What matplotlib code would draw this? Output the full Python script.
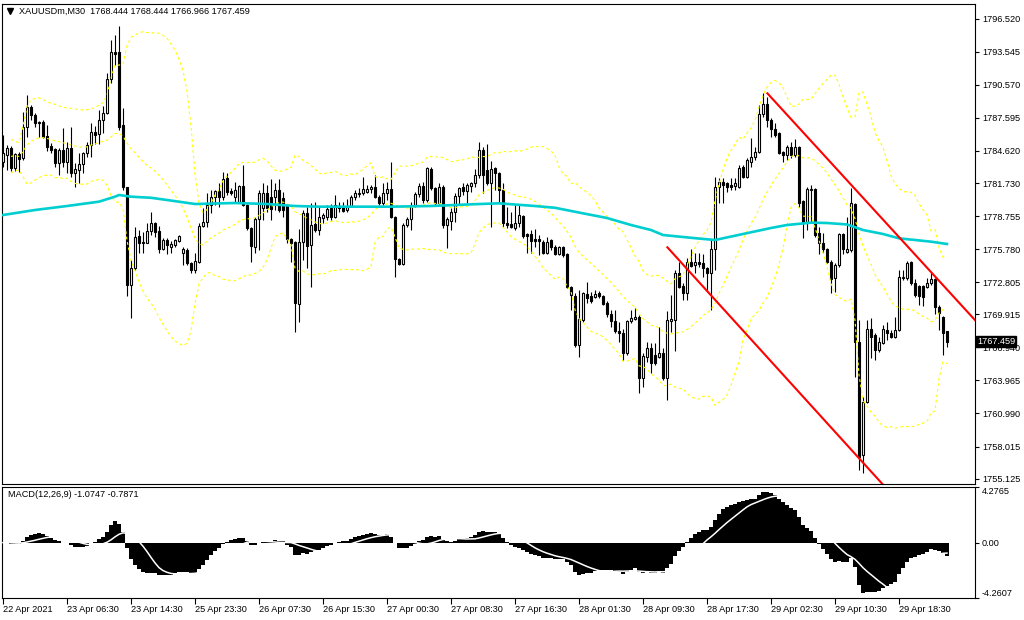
import matplotlib
matplotlib.use("Agg")
import matplotlib.pyplot as plt
import numpy as np
import pandas as pd

plt.rcParams['font.family'] = ['Liberation Sans', 'DejaVu Sans']

symbol = "XAUUSDm,M30"
last_quote = "1768.444 1768.444 1766.966 1767.459"

# M30 candles, oldest first
opens = [
    1783.62, 1784.25, 1784.88, 1783.08, 1784.34, 1783.98, 1786.77, 1788.57, 1787.85, 1787.22,
    1787.22, 1785.96, 1785.06, 1784.79, 1783.53, 1784.70, 1783.62, 1784.88, 1782.63, 1782.90,
    1783.44, 1784.43, 1785.15, 1786.32, 1786.14, 1787.40, 1788.03, 1791.09, 1793.52, 1793.52,
    1786.95, 1781.37, 1772.55, 1774.08, 1776.96, 1776.33, 1776.33, 1777.41, 1778.13, 1777.41,
    1775.79, 1776.60, 1775.97, 1776.15, 1776.51, 1775.43, 1775.70, 1774.53, 1773.90, 1774.62,
    1777.86, 1778.22, 1779.75, 1780.47, 1781.01, 1780.47, 1782.18, 1781.01, 1780.47, 1780.02,
    1781.46, 1779.75, 1777.68, 1775.97, 1778.49, 1779.48, 1780.83, 1780.47, 1780.47, 1781.10,
    1780.38, 1779.75, 1776.69, 1776.42, 1770.84, 1776.42, 1779.03, 1776.15, 1778.04, 1777.50,
    1778.58, 1778.67, 1779.48, 1778.67, 1779.57, 1779.57, 1779.30, 1779.66, 1780.47, 1780.74,
    1780.83, 1780.92, 1781.19, 1781.37, 1780.47, 1779.93, 1780.83, 1781.19, 1778.67, 1774.89,
    1774.44, 1777.95, 1778.49, 1779.75, 1780.74, 1781.46, 1780.20, 1782.99, 1781.28, 1779.93,
    1781.37, 1777.95, 1778.31, 1779.12, 1780.56, 1781.37, 1781.01, 1781.46, 1781.73, 1782.45,
    1784.70, 1782.90, 1781.73, 1783.08, 1782.63, 1781.10, 1778.13, 1778.04, 1777.68, 1778.13,
    1778.76, 1777.14, 1777.14, 1776.69, 1776.69, 1776.42, 1775.43, 1776.60, 1775.97, 1775.34,
    1775.97, 1775.34, 1772.37, 1771.56, 1767.15, 1769.40, 1771.74, 1771.56, 1771.47, 1771.83,
    1771.56, 1770.93, 1769.94, 1769.31, 1768.41, 1768.23, 1766.43, 1769.31, 1769.49, 1769.67,
    1764.18, 1766.07, 1766.88, 1766.25, 1766.07, 1766.43, 1764.18, 1769.31, 1769.40, 1773.63,
    1772.46, 1771.83, 1774.62, 1774.35, 1774.62, 1774.53, 1774.08, 1773.63, 1775.79, 1781.37,
    1781.82, 1781.73, 1781.55, 1781.46, 1781.37, 1783.17, 1782.27, 1783.62, 1784.07, 1784.52,
    1787.94, 1788.84, 1787.40, 1786.59, 1786.23, 1784.52, 1784.25, 1784.97, 1784.25, 1784.97,
    1780.11, 1778.13, 1781.10, 1781.19, 1777.23, 1776.33, 1775.79, 1774.62, 1773.18, 1774.35,
    1777.14, 1775.52, 1775.70, 1779.84, 1767.42, 1757.25, 1762.02, 1768.59, 1768.05, 1766.70,
    1767.33, 1768.50, 1768.23, 1767.87, 1768.50, 1773.18, 1773.18, 1774.62, 1772.73, 1772.46,
    1772.46, 1772.37, 1772.73, 1773.09, 1770.57, 1769.67, 1768.444,
]
highs = [
    1786.05, 1785.15, 1785.06, 1784.43, 1784.52, 1788.12, 1789.65, 1788.75, 1788.03, 1787.31,
    1787.40, 1786.95, 1785.33, 1784.88, 1784.88, 1786.68, 1785.42, 1786.77, 1783.53, 1784.43,
    1784.52, 1785.42, 1787.13, 1786.86, 1788.30, 1788.66, 1791.63, 1794.60, 1795.05, 1795.86,
    1788.48, 1781.37, 1774.80, 1777.77, 1777.50, 1777.32, 1778.13, 1779.12, 1778.22, 1777.86,
    1776.78, 1776.78, 1776.51, 1776.69, 1777.05, 1775.97, 1775.88, 1774.62, 1775.43, 1778.13,
    1779.48, 1780.83, 1781.10, 1781.10, 1781.73, 1782.72, 1782.63, 1781.28, 1781.82, 1781.55,
    1783.35, 1779.84, 1777.77, 1778.67, 1781.10, 1781.73, 1781.55, 1782.09, 1781.73, 1782.09,
    1780.92, 1779.84, 1776.78, 1776.51, 1777.59, 1779.30, 1779.57, 1779.93, 1780.02, 1779.57,
    1779.03, 1779.75, 1779.84, 1780.65, 1780.02, 1780.02, 1780.29, 1780.65, 1781.10, 1781.28,
    1782.27, 1781.55, 1781.55, 1782.45, 1780.65, 1781.73, 1781.82, 1783.62, 1778.76, 1774.98,
    1778.13, 1778.67, 1780.02, 1780.92, 1781.73, 1781.82, 1783.17, 1783.17, 1781.37, 1781.73,
    1781.55, 1778.67, 1779.48, 1780.83, 1781.37, 1781.73, 1781.73, 1781.82, 1782.99, 1785.42,
    1784.97, 1785.24, 1783.71, 1783.17, 1782.72, 1781.73, 1779.57, 1779.12, 1779.75, 1779.75,
    1778.85, 1777.23, 1777.50, 1777.59, 1777.05, 1776.60, 1776.87, 1776.69, 1776.15, 1776.06,
    1776.06, 1775.43, 1772.46, 1771.83, 1772.10, 1771.92, 1772.82, 1771.92, 1772.10, 1772.01,
    1771.65, 1771.11, 1770.30, 1770.30, 1769.22, 1768.59, 1769.40, 1770.30, 1770.48, 1769.85,
    1766.43, 1767.42, 1767.33, 1767.33, 1768.77, 1766.88, 1770.21, 1771.65, 1773.90, 1774.62,
    1772.73, 1774.98, 1775.79, 1775.43, 1775.43, 1775.34, 1774.17, 1776.69, 1782.27, 1782.18,
    1782.18, 1781.82, 1782.18, 1782.18, 1783.35, 1783.35, 1783.98, 1785.78, 1784.97, 1788.75,
    1789.83, 1789.47, 1787.58, 1787.13, 1786.32, 1784.61, 1785.15, 1785.42, 1785.69, 1785.06,
    1780.20, 1781.37, 1781.55, 1781.28, 1777.77, 1777.23, 1775.88, 1774.80, 1774.53, 1777.23,
    1777.23, 1778.67, 1781.28, 1779.93, 1769.40, 1762.47, 1769.40, 1769.58, 1768.23, 1767.87,
    1768.95, 1769.22, 1768.50, 1769.67, 1773.90, 1773.90, 1774.71, 1774.71, 1773.09, 1772.55,
    1772.55, 1773.18, 1773.63, 1773.18, 1770.75, 1769.76, 1768.444,
]
lows = [
    1783.17, 1782.90, 1782.81, 1782.81, 1782.72, 1783.80, 1785.87, 1787.40, 1786.77, 1785.87,
    1785.78, 1784.61, 1784.43, 1783.17, 1782.45, 1783.17, 1782.63, 1782.27, 1781.37, 1781.73,
    1782.63, 1784.07, 1784.07, 1785.24, 1785.24, 1786.23, 1787.94, 1790.73, 1792.35, 1786.50,
    1781.10, 1771.56, 1769.58, 1773.90, 1775.43, 1775.43, 1776.33, 1777.05, 1776.87, 1775.43,
    1775.70, 1775.34, 1775.43, 1775.97, 1776.42, 1774.35, 1774.35, 1773.63, 1773.63, 1774.53,
    1777.77, 1777.77, 1779.03, 1779.75, 1779.57, 1780.20, 1780.65, 1780.65, 1779.93, 1779.93,
    1779.66, 1777.50, 1774.62, 1775.43, 1775.70, 1778.40, 1779.12, 1778.40, 1779.30, 1779.12,
    1778.67, 1776.33, 1774.62, 1768.32, 1769.22, 1774.80, 1774.08, 1772.37, 1777.32, 1777.05,
    1778.13, 1778.40, 1778.40, 1778.58, 1779.12, 1779.12, 1779.12, 1779.57, 1780.20, 1780.47,
    1780.65, 1780.83, 1780.83, 1780.38, 1779.75, 1779.75, 1780.20, 1778.58, 1773.27, 1774.35,
    1774.35, 1777.77, 1777.50, 1779.57, 1780.47, 1779.93, 1780.02, 1781.10, 1779.75, 1779.84,
    1777.68, 1775.88, 1777.50, 1778.22, 1779.75, 1780.65, 1779.93, 1780.92, 1781.37, 1782.18,
    1780.83, 1781.55, 1777.77, 1781.10, 1780.02, 1777.77, 1777.68, 1777.68, 1777.50, 1777.77,
    1776.78, 1775.43, 1775.43, 1775.97, 1775.25, 1775.34, 1775.34, 1775.70, 1775.25, 1775.25,
    1775.07, 1772.28, 1770.30, 1766.97, 1766.07, 1769.22, 1770.93, 1770.93, 1771.38, 1771.38,
    1770.75, 1769.67, 1768.77, 1768.23, 1767.42, 1765.80, 1766.25, 1769.13, 1769.40, 1762.83,
    1763.37, 1765.62, 1764.63, 1765.35, 1765.98, 1764.00, 1762.20, 1768.32, 1766.61, 1772.28,
    1771.20, 1771.20, 1774.17, 1773.63, 1774.17, 1773.27, 1772.10, 1770.30, 1773.90, 1779.93,
    1779.93, 1780.92, 1781.10, 1781.10, 1781.28, 1782.18, 1782.18, 1783.17, 1783.80, 1784.43,
    1787.67, 1786.77, 1785.87, 1785.87, 1784.34, 1783.62, 1783.80, 1783.98, 1784.07, 1779.57,
    1776.78, 1777.50, 1778.22, 1776.87, 1775.34, 1775.43, 1774.53, 1771.83, 1771.92, 1774.17,
    1775.34, 1775.43, 1775.52, 1764.27, 1755.90, 1755.63, 1761.93, 1765.98, 1765.80, 1766.52,
    1767.24, 1767.60, 1767.78, 1767.78, 1768.41, 1773.00, 1773.00, 1772.55, 1771.47, 1770.75,
    1770.66, 1772.28, 1772.55, 1769.94, 1768.50, 1766.25, 1766.966,
]
closes = [
    1784.43, 1784.88, 1783.08, 1784.34, 1783.89, 1786.77, 1788.57, 1787.85, 1787.13, 1787.13,
    1785.87, 1784.97, 1784.70, 1783.53, 1784.70, 1783.62, 1784.88, 1782.63, 1782.99, 1783.44,
    1784.43, 1785.15, 1786.32, 1786.05, 1787.40, 1788.03, 1791.09, 1793.52, 1793.34, 1786.77,
    1781.37, 1772.55, 1774.08, 1776.87, 1776.33, 1776.42, 1777.41, 1778.13, 1777.32, 1775.79,
    1776.60, 1776.15, 1776.24, 1776.60, 1776.96, 1775.79, 1774.53, 1773.90, 1774.71, 1777.86,
    1778.22, 1779.75, 1780.47, 1781.01, 1780.47, 1782.09, 1780.92, 1780.83, 1781.10, 1781.46,
    1779.75, 1777.68, 1776.06, 1778.49, 1780.83, 1780.83, 1779.48, 1779.39, 1781.10, 1779.30,
    1779.30, 1776.69, 1776.33, 1770.93, 1776.42, 1779.03, 1776.06, 1777.95, 1777.50, 1778.67,
    1778.85, 1779.39, 1778.67, 1779.75, 1779.48, 1779.21, 1779.57, 1780.47, 1780.83, 1780.83,
    1781.19, 1781.19, 1781.37, 1780.47, 1779.93, 1780.83, 1781.19, 1778.67, 1774.89, 1774.44,
    1777.95, 1778.49, 1779.75, 1780.74, 1781.46, 1780.20, 1783.08, 1781.28, 1779.93, 1781.37,
    1777.95, 1778.49, 1779.12, 1780.56, 1781.28, 1781.01, 1781.55, 1781.73, 1782.45, 1784.70,
    1782.45, 1781.73, 1782.99, 1782.63, 1781.10, 1778.13, 1777.95, 1777.77, 1778.13, 1778.85,
    1776.96, 1776.96, 1776.51, 1776.51, 1776.51, 1775.43, 1776.42, 1775.97, 1775.34, 1775.97,
    1775.25, 1772.37, 1771.65, 1767.15, 1769.49, 1771.83, 1771.38, 1771.11, 1771.74, 1771.56,
    1770.84, 1769.94, 1769.31, 1768.41, 1768.23, 1766.43, 1769.31, 1769.58, 1769.67, 1764.18,
    1766.16, 1766.88, 1765.53, 1765.53, 1766.43, 1764.18, 1769.40, 1769.49, 1773.63, 1772.37,
    1771.83, 1774.62, 1774.26, 1774.62, 1774.44, 1774.08, 1773.63, 1775.79, 1781.37, 1781.82,
    1781.55, 1781.37, 1781.37, 1781.73, 1783.08, 1782.27, 1783.80, 1784.07, 1784.52, 1787.94,
    1788.84, 1787.40, 1786.59, 1786.05, 1784.43, 1784.25, 1784.97, 1784.25, 1784.97, 1779.93,
    1778.13, 1781.19, 1781.19, 1777.05, 1776.33, 1775.79, 1774.62, 1773.09, 1774.35, 1777.14,
    1775.79, 1775.79, 1779.93, 1767.42, 1757.07, 1762.02, 1768.59, 1767.87, 1766.70, 1767.42,
    1768.59, 1768.23, 1767.87, 1768.50, 1773.27, 1773.27, 1774.53, 1772.73, 1771.65, 1771.56,
    1771.47, 1772.73, 1773.09, 1770.57, 1770.03, 1768.23, 1767.459,
]

# long moving average (cyan), read at these bars
ma_bars = [0, 8, 16, 24, 28, 29, 32, 37, 41, 48,
           58, 66, 73, 79, 87, 97, 107, 117, 124, 133,
           138, 145, 151, 157, 162, 165, 170, 174, 178, 185,
           192, 196, 202, 206, 211, 215, 220, 224, 232, 236]
ma_vals = [1778.85, 1779.30, 1779.66, 1780.05, 1780.50, 1780.65, 1780.50, 1780.40, 1780.20, 1779.84,
           1779.93, 1779.84, 1779.66, 1779.60, 1779.60, 1779.60, 1779.66, 1779.81, 1779.90, 1779.66,
           1779.50, 1779.00, 1778.58, 1777.95, 1777.50, 1777.05, 1776.87, 1776.73, 1776.60, 1777.14,
           1777.68, 1777.95, 1778.16, 1778.13, 1778.00, 1777.50, 1777.14, 1776.75, 1776.45, 1776.24]

# hand drawn trend lines: (bar, price) pairs
upper_trend = [(191.1, 1789.80), (242.6, 1769.55)]
lower_trend = [(166.1, 1775.94), (219.7, 1754.70)]

price_ticks = [1796.520, 1793.545, 1790.570, 1787.595, 1784.620, 1781.730, 1778.755,
               1775.780, 1772.805, 1769.915, 1766.940, 1763.965, 1760.990, 1758.015, 1755.125]
macd_ticks = [4.2765, 0.0, -4.2607]
time_labels = ["22 Apr 2021", "23 Apr 06:30", "23 Apr 14:30", "25 Apr 23:30", "26 Apr 07:30",
               "26 Apr 15:30", "27 Apr 00:30", "27 Apr 08:30", "27 Apr 16:30", "28 Apr 01:30",
               "28 Apr 09:30", "28 Apr 17:30", "29 Apr 02:30", "29 Apr 10:30", "29 Apr 18:30"]
label_step = 16

o = np.array(opens)
h = np.array(highs)
l = np.array(lows)
c = np.array(closes)
x = np.arange(len(c))

# indicators
cs = pd.Series(c)
bb_mid = cs.rolling(20, min_periods=3).mean()
bb_sd = cs.rolling(20, min_periods=3).std(ddof=0)
bb_up = bb_mid + 2 * bb_sd
bb_lo = bb_mid - 2 * bb_sd
macd = cs.ewm(span=12, adjust=False).mean() - cs.ewm(span=26, adjust=False).mean()
signal = macd.rolling(9, min_periods=1).mean()

fs = 6.6
fig = plt.figure(figsize=(10.24, 6.2), dpi=100)
ax = fig.add_axes([2 / 1024, 1 - 484 / 620, 973 / 1024, 480 / 620])
axm = fig.add_axes([2 / 1024, 1 - 598 / 620, 973 / 1024, 111 / 620])

# candles
ax.vlines(x, l, h, color="black", lw=0.8, zorder=2)
up = c >= o
ax.bar(x[up], (c - o)[up], bottom=o[up], width=0.55, color="white",
       edgecolor="black", lw=0.8, zorder=3)
ax.bar(x[~up], (c - o)[~up], bottom=o[~up], width=0.55, color="black",
       edgecolor="black", lw=0.8, zorder=3)

# bollinger bands
for band in (bb_up, bb_mid, bb_lo):
    ax.plot(x, band, color="#ffff00", lw=0.8, ls=(0, (2.5, 2.5)), zorder=4)

ax.plot(ma_bars, ma_vals, color="#00CED1", lw=1.9, zorder=5)

for (x0, y0), (x1, y1) in (upper_trend, lower_trend):
    k = (y1 - y0) / (x1 - x0)
    ax.plot([x0, 260], [y0, y0 + k * (260 - x0)], color="#ff0000", lw=1.5, zorder=6)

ax.set_xlim(-0.25, 243)
ax.set_ylim(1754.64, 1797.84)
ax.set_xticks([])
ax.yaxis.tick_right()
ax.set_yticks(price_ticks)
ax.set_yticklabels([f"{v:.3f}" for v in price_ticks])
ax.tick_params(axis="y", labelsize=fs, length=3, width=0.8, pad=2)

ax.plot([0.0085], [0.985], marker="v", ms=4, color="black", transform=ax.transAxes, clip_on=False)
ax.text(0.017, 0.985, f"{symbol}  {last_quote}", transform=ax.transAxes,
        fontsize=fs, va="center", ha="left", color="black")

ax.text(1.002, c[-1], f"{c[-1]:.3f}", transform=ax.get_yaxis_transform(),
        fontsize=fs, color="white", va="center", ha="left", zorder=10,
        bbox=dict(boxstyle="square,pad=0.15", fc="black", ec="black"), clip_on=False)

# MACD
axm.bar(x, macd, width=1.0, color="black", lw=0, zorder=2)
axm.plot(x, signal, color="white", lw=1.1, zorder=3)
axm.set_xlim(-0.25, 243)
axm.set_ylim(-4.2607, 4.2765)
axm.yaxis.tick_right()
axm.set_yticks(macd_ticks)
axm.set_yticklabels(["4.2765", "0.00", "-4.2607"])
axm.tick_params(axis="y", labelsize=fs, length=3, width=0.8, pad=2)
tl = axm.get_yticklabels()
tl[0].set_va("top")
tl[2].set_va("bottom")
axm.set_xticks(np.arange(len(time_labels)) * label_step)
axm.set_xticklabels(time_labels, ha="left")
axm.tick_params(axis="x", labelsize=fs, length=4, width=0.8, pad=1)
axm.text(0.006, 0.93, f"MACD(12,26,9) {macd.iloc[-1]:.4f} {signal.iloc[-1]:.4f}" if False
         else "MACD(12,26,9) -1.0747 -0.7871", transform=axm.transAxes,
         fontsize=fs, va="center", ha="left")

for a in (ax, axm):
    for s in a.spines.values():
        s.set_linewidth(0.8)
        s.set_color("black")

fig.savefig("out.png", dpi=100)
